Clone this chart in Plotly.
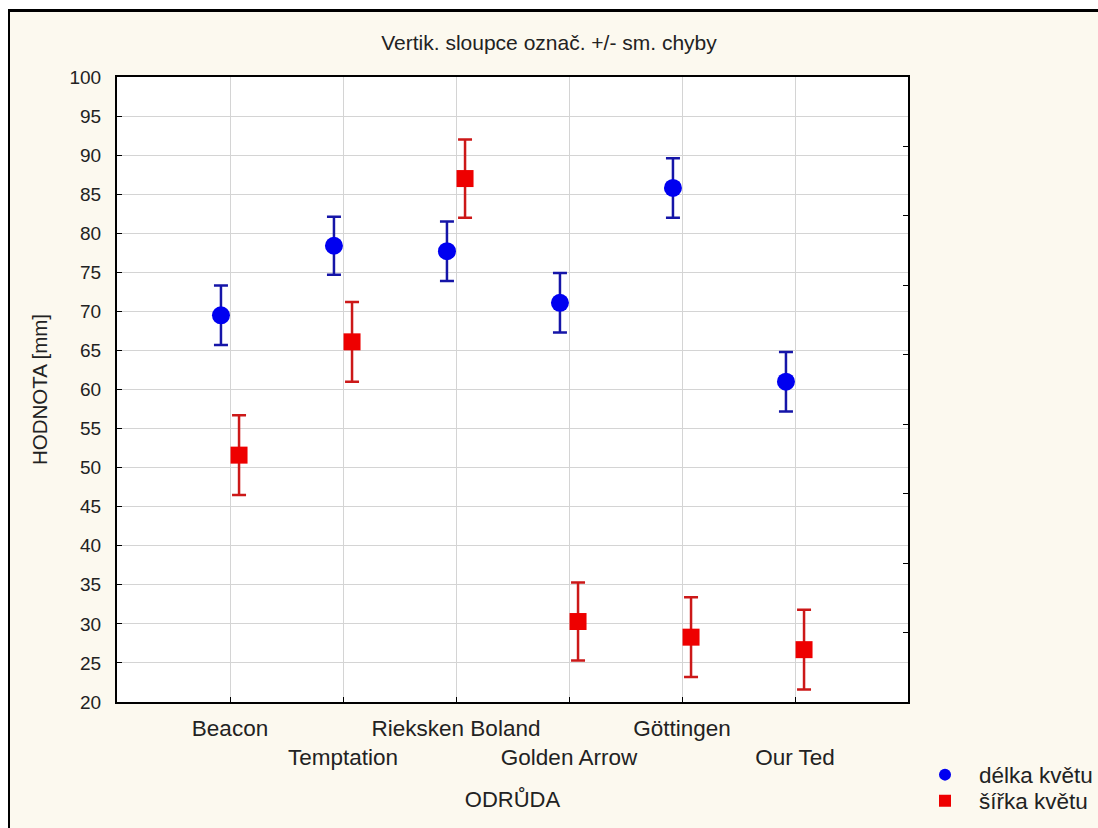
import plotly.graph_objects as go

categories = ["Beacon", "Temptation", "Rieksken Boland", "Golden Arrow", "Göttingen", "Our Ted"]
delka_mean = [69.5, 78.4, 77.7, 71.1, 85.8, 61.0]
delka_se = [3.8, 3.7, 3.8, 3.8, 3.8, 3.8]
sirka_mean = [51.6, 66.1, 87.0, 30.3, 28.3, 26.7]
sirka_se = [5.1, 5.1, 5.0, 5.0, 5.1, 5.1]
y_ticks = list(range(20, 101, 5))

FONT = "Liberation Sans, Arial, sans-serif"
BG = "#FCF9EF"
TXT = "#222222"

idx = list(range(len(categories)))
off = 0.08
ticktext = [c if i % 2 == 0 else "<br>" + c for i, c in enumerate(categories)]

fig = go.Figure()
fig.add_trace(go.Scatter(
    x=[i - off for i in idx], y=delka_mean, mode="markers", name="délka květu", legend="legend",
    marker=dict(symbol="circle", size=18, color="#0000F0"),
    error_y=dict(type="data", array=delka_se, color="#1515A8", thickness=2.5, width=7),
))
fig.add_trace(go.Scatter(
    x=[i + off for i in idx], y=sirka_mean, mode="markers", name="šířka květu", legend="legend2",
    marker=dict(symbol="square", size=17, color="#EE0000"),
    error_y=dict(type="data", array=sirka_se, color="#CC1818", thickness=2.5, width=7),
))
# invisible trace for right-side inner ticks
fig.add_trace(go.Scatter(x=[0], y=[0], yaxis="y2", mode="markers",
                         marker=dict(opacity=0), showlegend=False, hoverinfo="skip"))

leg_common = dict(xref="container", yref="container", xanchor="left", yanchor="middle",
                  bgcolor="rgba(0,0,0,0)", font=dict(size=22.5), itemsizing="constant",
                  itemwidth=58)

fig.update_layout(
    width=1098, height=828,
    paper_bgcolor=BG, plot_bgcolor="white",
    margin=dict(l=117, r=190, t=77, b=126, autoexpand=False),
    font=dict(family=FONT, size=19, color=TXT),
    title=dict(text="Vertik. sloupce označ. +/- sm. chyby", x=0.5, xref="container",
               y=1 - 43 / 828, yanchor="middle", font=dict(size=21, color=TXT)),
    xaxis=dict(range=[-1, 6], tickvals=idx, ticktext=ticktext, tickangle=0,
               tickfont=dict(size=22.5), showgrid=True,
               gridcolor="#D4D4D4", gridwidth=1, ticks="inside", ticklen=5, tickcolor="black",
               ticklabelstandoff=5,
               showline=True, linecolor="black", linewidth=2, mirror=True, zeroline=False,
               title=dict(text="ODRŮDA", standoff=22, font=dict(size=22))),
    yaxis=dict(range=[20, 100], tickvals=y_ticks, showgrid=True, gridcolor="#D4D4D4",
               ticks="inside", ticklen=5, tickcolor="black", ticklabelstandoff=10,
               showline=True, linecolor="black", linewidth=2, mirror=True, zeroline=False,
               title=dict(text="HODNOTA [mm]", standoff=16, font=dict(size=20.5))),
    yaxis2=dict(overlaying="y", side="right", range=[0, 9], dtick=1, showticklabels=False,
                ticks="inside", ticklen=5, tickcolor="black", showgrid=False, zeroline=False),
    legend=dict(x=911 / 1098, y=1 - 775 / 828, **leg_common),
    legend2=dict(x=911 / 1098, y=1 - 801 / 828, **leg_common),
    showlegend=True,
)

# outer frame: white strips on top / left, then black border lines
px = lambda x: (x - 117) / 791
py = lambda y: (702 - y) / 625
fig.add_shape(type="rect", xref="paper", yref="paper", x0=px(0), x1=px(1098), y0=py(0), y1=py(10),
              fillcolor="white", line=dict(width=0), layer="below")
fig.add_shape(type="rect", xref="paper", yref="paper", x0=px(0), x1=px(8), y0=py(0), y1=py(828),
              fillcolor="white", line=dict(width=0), layer="below")
fig.add_shape(type="line", xref="paper", yref="paper", x0=px(8), x1=px(1098), y0=py(10.5), y1=py(10.5),
              line=dict(color="black", width=3))
fig.add_shape(type="line", xref="paper", yref="paper", x0=px(9), x1=px(9), y0=py(10), y1=py(828),
              line=dict(color="black", width=2))

fig.write_html("out.html", config={"displayModeBar": False},
               post_script="document.body.style.margin='0';")
